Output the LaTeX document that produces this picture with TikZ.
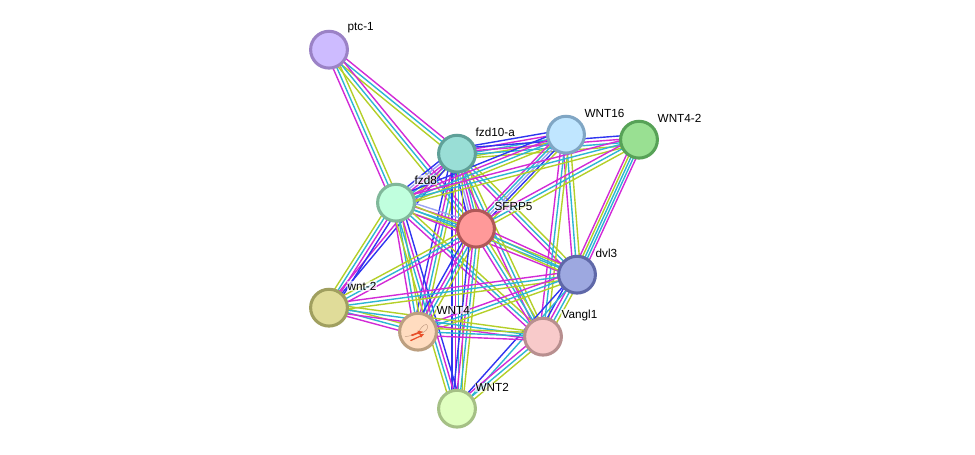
\documentclass[tikz,border=0pt]{standalone}
\usepackage{fontspec}
\setmainfont{Liberation Sans}
\usetikzlibrary{calc}
\pgfdeclarelayer{edges}
\pgfsetlayers{edges,main}
\definecolor{chMag}{HTML}{D22AD6}
\definecolor{chCya}{HTML}{2DB6D2}
\definecolor{chYel}{HTML}{B4CF28}
\definecolor{chBlu}{HTML}{2F35F0}
\definecolor{chLav}{HTML}{9CA4F2}
\definecolor{ribbonRed}{HTML}{E8502A}
\definecolor{ribbonLoop}{HTML}{C09A80}
% Fill and border of each protein
\definecolor{fPtc}{HTML}{CDBBFF}\definecolor{bPtc}{HTML}{9B82C6}
\definecolor{fFzdt}{HTML}{99DED6}\definecolor{bFzdt}{HTML}{5FA098}
\definecolor{fWsix}{HTML}{C0E6FF}\definecolor{bWsix}{HTML}{80A6C4}
\definecolor{fWfourb}{HTML}{99E092}\definecolor{bWfourb}{HTML}{57A257}
\definecolor{fFzde}{HTML}{C0FFDE}\definecolor{bFzde}{HTML}{80B89A}
\definecolor{fSfrp}{HTML}{FF9999}\definecolor{bSfrp}{HTML}{B05858}
\definecolor{fDvl}{HTML}{9DA8E0}\definecolor{bDvl}{HTML}{5F68A8}
\definecolor{fWnt}{HTML}{E0DC99}\definecolor{bWnt}{HTML}{A09F5F}
\definecolor{fWfour}{HTML}{FFDCC0}\definecolor{bWfour}{HTML}{BC9F80}
\definecolor{fVang}{HTML}{F8CACA}\definecolor{bVang}{HTML}{B88F8F}
\definecolor{fWtwo}{HTML}{E0FFC0}\definecolor{bWtwo}{HTML}{A5C085}
\tikzset{
  x=0.75pt,y=-0.75pt,
  channel/.style={line width=1.05pt},
  protein/.style n args={2}{circle,draw=#2,fill=#1,line width=2.3pt,minimum size=27.6pt,inner sep=0pt},
  tag/.style={font=\fontsize{8.8pt}{11pt}\selectfont,text=black,fill=white,fill opacity=.65,text opacity=1,inner sep=0.3pt,anchor=west},
}
% Channel sets of an interaction: colour/offset in pt across the band
\def\setA{chMag/-2.8,chCya/0,chYel/2.8}
\def\setB{chBlu/-3.9,chMag/-1.3,chCya/1.3,chYel/3.9}
\def\setC{chBlu/-4,chLav/-2,chMag/0,chCya/2,chYel/4}
\def\setD{chMag/-3.8,chYel/-1.9,chCya/0,chCya/1.9,chMag/3.8}
\def\setE{chMag/-4,chCya/-2,chLav/0,chBlu/2,chYel/4}
\def\setF{chLav/-3.9,chMag/-1.3,chCya/1.3,chYel/3.9}
\def\setG{chMag/1.8,chBlu/-0.6}
\def\setH{chBlu/-1.8,chCya/1.8}
\newcommand{\linkband}[3]{%
  \foreach \cc/\oo in #3 {%
    \draw[channel,\cc] ($(#1)!\oo pt!90:(#2)$) -- ($(#2)!\oo pt!-90:(#1)$);
  }%
}
\begin{document}
\begin{tikzpicture}
\useasboundingbox (0,0) rectangle (975,454);
\begin{scope}[yshift=-0.5pt]
% Proteins
\node[protein={fPtc}{bPtc}] (ptc) at (329,49) {};
\node[protein={fFzdt}{bFzdt}] (fzdt) at (457,153) {};
\node[protein={fWsix}{bWsix}] (wsix) at (566,134) {};
\node[protein={fWfourb}{bWfourb}] (wfour2) at (639,139) {};
\node[protein={fFzde}{bFzde}] (fzde) at (396,202) {};
\node[protein={fSfrp}{bSfrp}] (sfrp) at (476,228) {};
\node[protein={fDvl}{bDvl}] (dvl) at (577,274) {};
\node[protein={fWnt}{bWnt}] (wnttwo) at (329,307) {};
\node[protein={fWfour}{bWfour}] (wfour) at (418,331) {};
\node[protein={fVang}{bVang}] (vang) at (543,336) {};
\node[protein={fWtwo}{bWtwo}] (wtwo) at (457,408) {};
% Interaction bands
\begin{pgfonlayer}{edges}
\linkband{fzdt}{ptc}{\setA}
\linkband{ptc}{fzde}{\setA}
\linkband{sfrp}{ptc}{\setA}
\linkband{wsix}{fzdt}{\setB}
\linkband{wfour2}{fzdt}{\setB}
\linkband{fzdt}{fzde}{\setC}
\linkband{fzdt}{sfrp}{\setC}
\linkband{fzdt}{dvl}{\setA}
\linkband{wnttwo}{fzdt}{\setG}
\linkband{fzdt}{wfour}{\setB}
\linkband{fzdt}{vang}{\setA}
\linkband{fzdt}{wtwo}{\setB}
\linkband{wsix}{fzde}{\setB}
\linkband{wsix}{sfrp}{\setE}
\linkband{wsix}{dvl}{\setA}
\linkband{wsix}{vang}{\setA}
\linkband{wfour2}{fzde}{\setA}
\linkband{wfour2}{sfrp}{\setA}
\linkband{wfour2}{dvl}{\setD}
\linkband{sfrp}{fzde}{\setF}
\linkband{fzde}{dvl}{\setA}
\linkband{wnttwo}{fzde}{\setB}
\linkband{fzde}{wfour}{\setA}
\linkband{fzde}{vang}{\setA}
\linkband{wtwo}{fzde}{\setB}
\linkband{dvl}{sfrp}{\setA}
\linkband{sfrp}{wfour}{\setB}
\linkband{sfrp}{vang}{\setA}
\linkband{sfrp}{wtwo}{\setB}
\linkband{wnttwo}{sfrp}{\setA}
\linkband{dvl}{wnttwo}{\setA}
\linkband{dvl}{wfour}{\setA}
\linkband{dvl}{vang}{\setB}
\linkband{dvl}{wtwo}{\setH}
\linkband{wnttwo}{wfour}{\setA}
\linkband{wnttwo}{vang}{\setA}
\linkband{wfour}{vang}{\setA}
\linkband{vang}{wtwo}{\setA}
\end{pgfonlayer}
% Ribbon glyph of the known structure
\draw[line width=0.35pt,color=ribbonLoop] (405,336) .. controls (412,335) and (417,334) .. (420,329) .. controls (422,325) and (427,322) .. (427.5,325) .. controls (428,329) and (425,331) .. (422,332.5);
\fill[ribbonRed] (411,334) -- (418,331.5) -- (417.5,330) -- (423,331) -- (419,334) -- (418.5,333) -- (412,335.5) -- cycle;
\fill[ribbonRed] (410,339.5) -- (420,335) -- (419.5,333.5) -- (424,333.5) -- (421,337) -- (420.5,336) -- (411,340.5) -- cycle;
\end{scope}
% Labels
\node[tag] (lptc) at (347,28) {ptc-1};
\node[tag] (lfzdt) at (475,132) {fzd10-a};
\node[tag] (lwsix) at (584,113) {WNT16};
\node[tag] (lwf2) at (657,118) {WNT4-2};
\node[tag] (lfzde) at (414,180) {fzd8};
\node[tag] (lsfrp) at (494,206) {SFRP5};
\node[tag] (ldvl) at (595,253) {dvl3};
\node[tag] (lw2) at (347,286) {wnt-2};
\node[tag] (lwf) at (436,310) {WNT4};
\node[tag] (lvang) at (561,315) {Vangl1};
\node[tag] (lwt) at (475,387) {WNT2};
\end{tikzpicture}
\end{document}
